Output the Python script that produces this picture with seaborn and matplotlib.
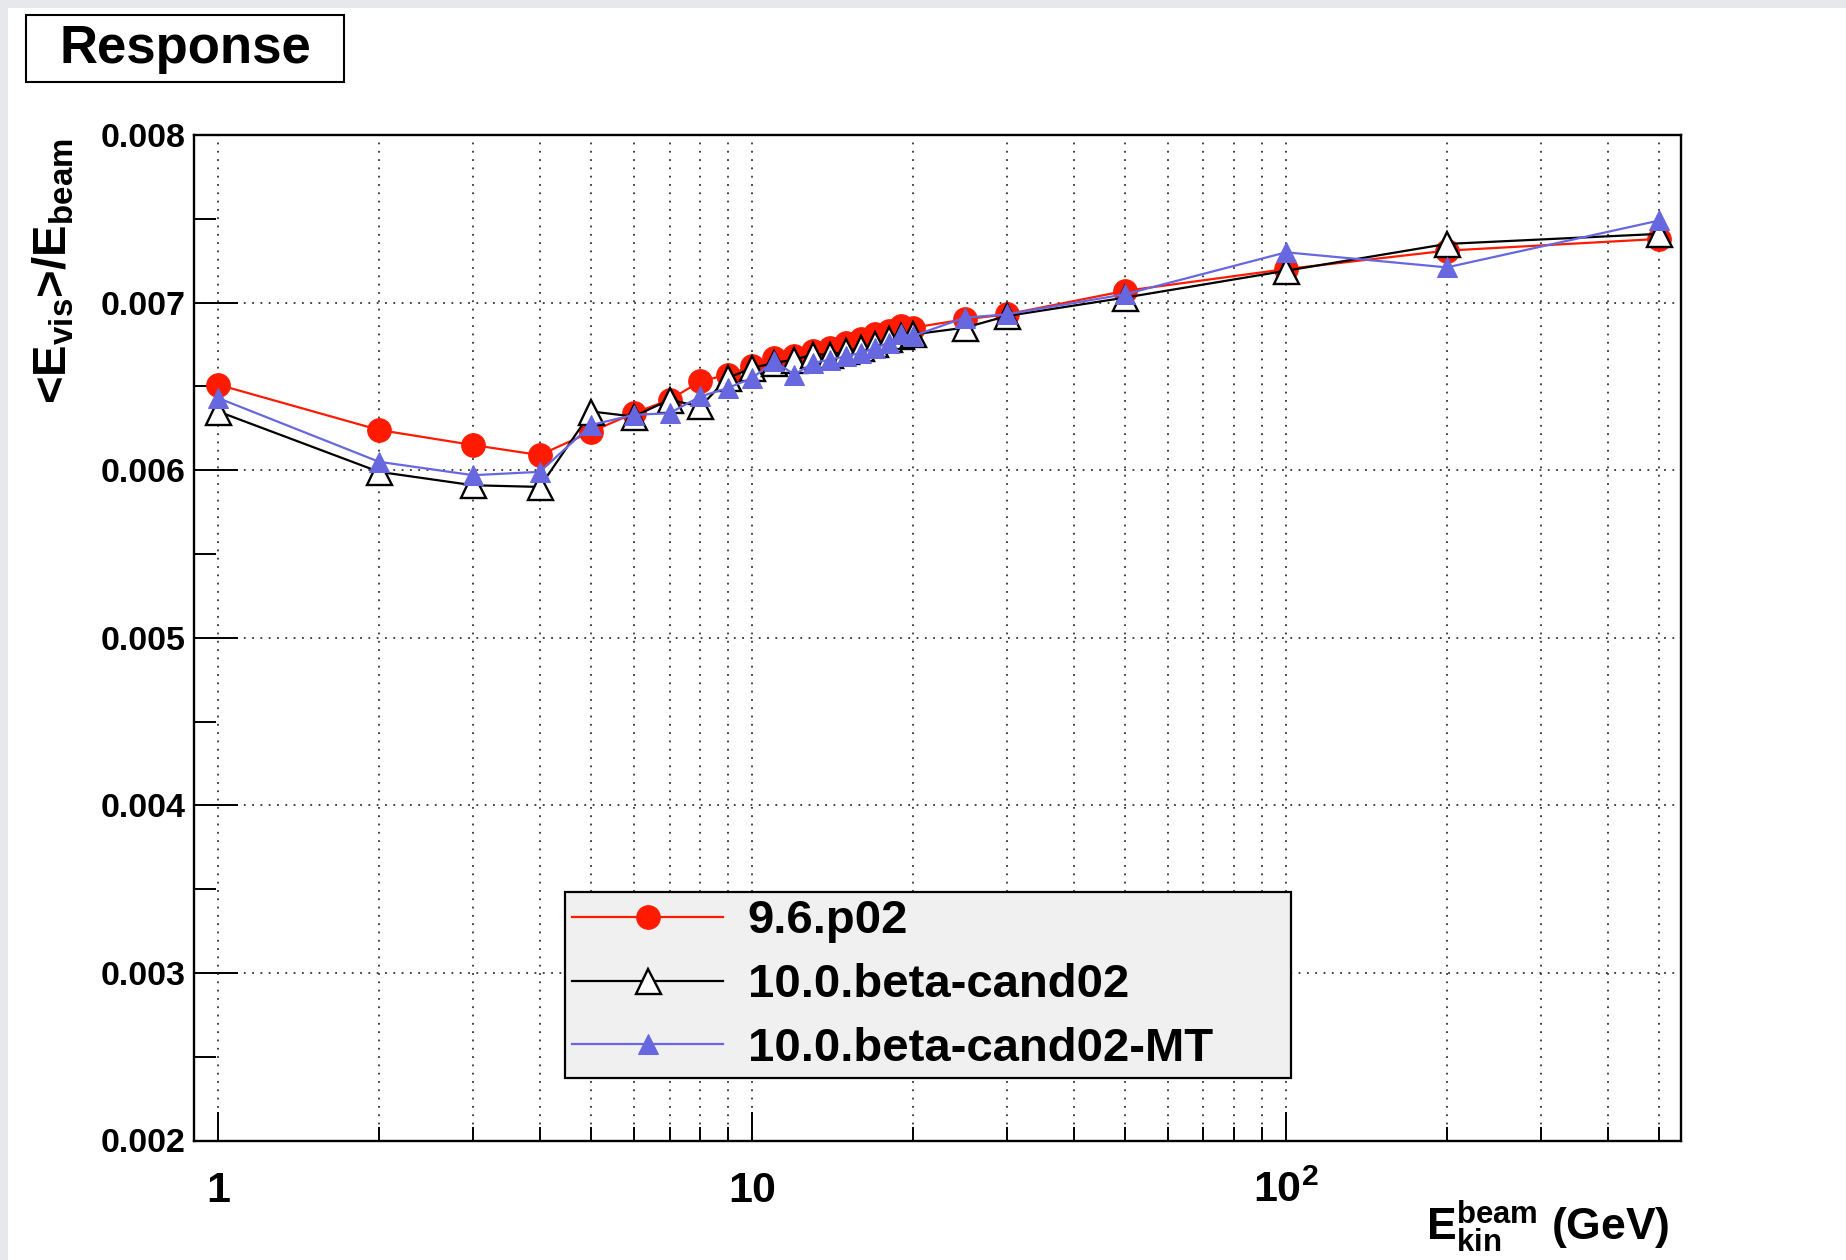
import matplotlib
matplotlib.use("Agg")
import matplotlib.pyplot as plt
import matplotlib.ticker as mticker
from matplotlib.patches import Rectangle
import seaborn as sns
import pandas as pd

# ---------------- data ----------------
energy = [1, 2, 3, 4, 5, 6, 7, 8, 9, 10, 11, 12, 13, 14, 15, 16, 17, 18, 19, 20,
          25, 30, 50, 100, 200, 500]
resp_96p02 = [0.00651, 0.00624, 0.00615, 0.00609, 0.00623, 0.00634, 0.00642, 0.00653,
              0.00657, 0.00662, 0.00667, 0.00668, 0.00671, 0.00673, 0.00676, 0.00678,
              0.00681, 0.00683, 0.00686, 0.00685, 0.00690, 0.00693, 0.00707, 0.00720,
              0.00731, 0.00738]
resp_100beta = [0.00635, 0.00599, 0.00591, 0.00590, 0.00635, 0.00632, 0.00642, 0.00638,
                0.00655, 0.00661, 0.00664, 0.00666, 0.00669, 0.00669, 0.00671, 0.00673,
                0.00675, 0.00678, 0.00680, 0.00681, 0.00685, 0.00692, 0.00703, 0.00719,
                0.00735, 0.00741]
resp_100beta_mt = [0.00643, 0.00605, 0.00597, 0.00599, 0.00627, 0.00633, 0.00634, 0.00644,
                   0.00649, 0.00655, 0.00665, 0.00657, 0.00664, 0.00666, 0.00668, 0.00670,
                   0.00673, 0.00676, 0.00681, 0.00680, 0.00691, 0.00693, 0.00705, 0.00730,
                   0.00721, 0.00749]
series_labels = ["9.6.p02", "10.0.beta-cand02", "10.0.beta-cand02-MT"]
x_major = [1, 10, 100]
x_major_labels = ["1", "10", "$10^{2}$"]
y_ticks = [0.002, 0.003, 0.004, 0.005, 0.006, 0.007, 0.008]
y_tick_labels = ["0.002", "0.003", "0.004", "0.005", "0.006", "0.007", "0.008"]

df = pd.DataFrame({
    "E": energy * 3,
    "resp": resp_96p02 + resp_100beta + resp_100beta_mt,
    "ver": [series_labels[0]] * len(energy) + [series_labels[1]] * len(energy)
           + [series_labels[2]] * len(energy),
})

# ---------------- style ----------------
plt.rcParams["font.family"] = ["Liberation Sans", "DejaVu Sans"]
plt.rcParams["font.weight"] = "bold"
plt.rcParams["mathtext.fontset"] = "custom"
for k in ("rm", "it", "bf", "sf"):
    plt.rcParams["mathtext." + k] = "Liberation Sans:bold"

DPI = 100
fig = plt.figure(figsize=(1846 / DPI, 1260 / DPI), dpi=DPI)
fig.patch.set_facecolor("#e7e8ec")
fig.add_artist(Rectangle((8 / 1846, 0), 1, 1 - 8 / 1260, transform=fig.transFigure,
                         facecolor="white", edgecolor="none", zorder=0))

ax = fig.add_axes([194.3 / 1846, 1 - 1140.5 / 1260, (1681 - 194.3) / 1846,
                   (1140.5 - 135) / 1260])
ax.set_facecolor("white")

styles = {
    series_labels[0]: dict(color="#ff1a00", marker="o", markersize=17,
                           markerfacecolor="#ff1a00", markeredgecolor="#ff1a00"),
    series_labels[1]: dict(color="black", marker="^", markersize=18,
                           markerfacecolor="white", markeredgecolor="black",
                           markeredgewidth=1.7),
    series_labels[2]: dict(color="#6767e0", marker="^", markersize=15,
                           markerfacecolor="#6767e0", markeredgecolor="#6767e0"),
}
for i, lab in enumerate(series_labels):
    sub = df[df["ver"] == lab]
    sns.lineplot(data=sub, x="E", y="resp", ax=ax, label=lab, estimator=None,
                 sort=False, linewidth=1.6, zorder=3 + i, **styles[lab])

ax.set_xscale("log")
ax.set_xlim(0.9017, 549)
ax.set_ylim(0.002, 0.008)

ax.xaxis.set_major_locator(mticker.FixedLocator(x_major))
ax.xaxis.set_major_formatter(mticker.FixedFormatter(x_major_labels))
ax.xaxis.set_minor_locator(mticker.LogLocator(base=10, subs=range(2, 10), numticks=20))
ax.xaxis.set_minor_formatter(mticker.NullFormatter())
ax.yaxis.set_major_locator(mticker.FixedLocator(y_ticks))
ax.yaxis.set_major_formatter(mticker.FixedFormatter(y_tick_labels))
ax.yaxis.set_minor_locator(mticker.MultipleLocator(0.0005))

ax.tick_params(axis="x", which="major", direction="in", length=21, width=1.4,
               labelsize=31, pad=22, top=False)
ax.tick_params(axis="x", which="minor", direction="in", length=10, width=1.4, top=False)
ax.tick_params(axis="y", which="major", direction="in", length=32, width=1.4,
               labelsize=24.5, pad=6.5, right=False)
ax.tick_params(axis="y", which="minor", direction="in", length=16, width=1.4, right=False)
for s in ax.spines.values():
    s.set_linewidth(1.7)
    s.set_color("black")

grid_kw = dict(color="#333333", linestyle=(0, (1, 3.6)), linewidth=1.3)
ax.grid(True, axis="x", which="both", **grid_kw)
ax.grid(True, axis="y", which="major", **grid_kw)
ax.set_axisbelow(True)
ax.set_xlabel("")
ax.set_ylabel("")

leg = ax.legend(loc="lower left", bbox_to_anchor=(0.2493, 0.0622, 0.4884, 0.1859),
                mode="expand", borderaxespad=0, prop={"size": 34, "weight": "bold"},
                frameon=True, fancybox=False, edgecolor="black", facecolor="#f0f0f0",
                framealpha=1, handlelength=3.2, handletextpad=0.52, borderpad=0.15,
                labelspacing=0.42, numpoints=1)
leg.get_frame().set_linewidth(1.6)
leg.set_zorder(10)

# axis titles
fig.text(53.5 / 1846, 1 - 138 / 1260, r"<E$_{vis}$>/E$_{beam}$", rotation=90,
         ha="center", va="top", fontsize=34, fontweight="bold")
fig.text(1670 / 1846, 20 / 1260, r"E$_{kin}^{beam}$ (GeV)", ha="right",
         va="baseline", fontsize=32, fontweight="bold")

# title box
fig.add_artist(Rectangle((26 / 1846, 1 - 82 / 1260), (344 - 26) / 1846, (82 - 15) / 1260,
                         transform=fig.transFigure, facecolor="white",
                         edgecolor="black", linewidth=1.5, zorder=5))
fig.text(185 / 1846, 1 - 48.5 / 1260, "Response", ha="center", va="center",
         fontsize=38, fontweight="bold", zorder=6)

fig.savefig("out.png", dpi=DPI, facecolor=fig.get_facecolor())
